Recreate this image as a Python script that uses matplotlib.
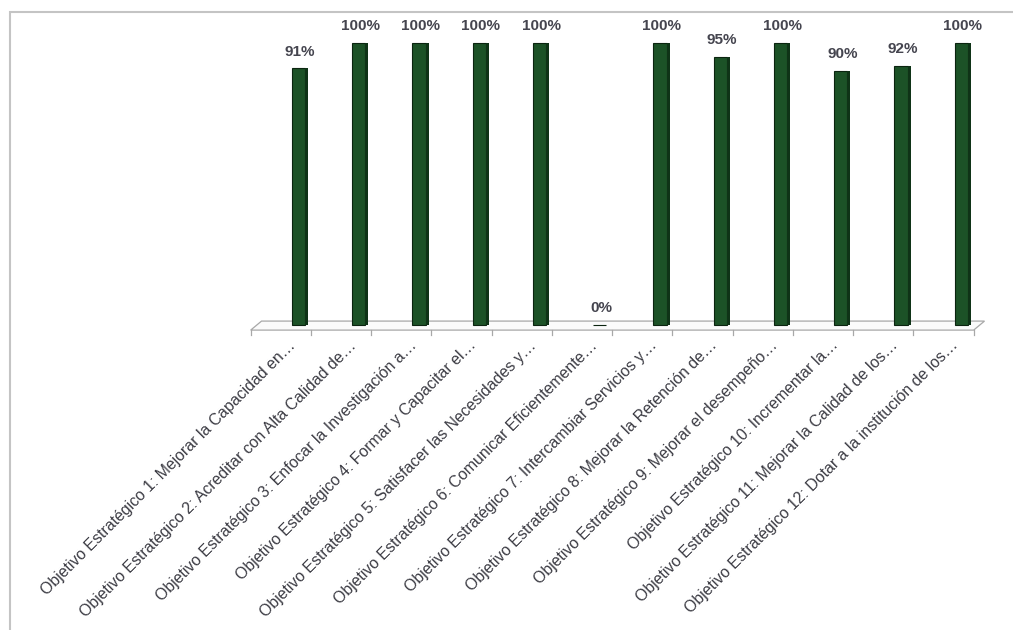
import matplotlib.pyplot as plt
import numpy as np
from matplotlib.patches import Polygon, Rectangle

plt.rcParams["font.family"] = ["Liberation Sans", "DejaVu Sans"]

labels = [
    "Objetivo Estratégico 1: Mejorar la Capacidad en…",
    "Objetivo Estratégico 2: Acreditar con Alta Calidad de…",
    "Objetivo Estratégico 3: Enfocar la Investigación a…",
    "Objetivo Estratégico 4: Formar y Capacitar el…",
    "Objetivo Estratégico 5: Satisfacer las Necesidades y…",
    "Objetivo Estratégico 6: Comunicar Eficientemente…",
    "Objetivo Estratégico 7: Intercambiar Servicios y…",
    "Objetivo Estratégico 8: Mejorar la Retención de…",
    "Objetivo Estratégico 9: Mejorar el desempeño…",
    "Objetivo Estratégico 10: Incrementar la…",
    "Objetivo Estratégico 11: Mejorar la Calidad de los…",
    "Objetivo Estratégico 12: Dotar a la institución de los…",
]
values = [91, 100, 100, 100, 100, 0, 100, 95, 100, 90, 92, 100]

_GREEN = "#1c5227"
_SIDE = "#0f3317"

fig = plt.figure(figsize=(10.13, 6.3), dpi=100)
# axes placed so that 0 sits at y=325px and 100 at y=43px
ax = fig.add_axes([0.2665, 0.4617, 0.7137, 0.5371])
ax.set_xlim(-0.5, 11.5)
ax.set_ylim(-5, 115)
ax.axis("off")

x = np.arange(len(values))

# floor of the pseudo-3D chart
front_l, front_r = -0.82, 11.18
dx, y_back, y_front = 0.18, 1.4, -1.8
floor = Polygon(
    [(front_l, y_front), (front_r, y_front), (front_r + dx, y_back), (front_l + dx, y_back)],
    closed=True, facecolor="#fbfbfb", edgecolor="#a8a8a8", linewidth=0.9,
    zorder=1, clip_on=False,
)
ax.add_patch(floor)
for k in range(len(values) + 1):
    ax.plot([front_l + k, front_l + k], [y_front, y_front - 1.6],
            color="#a8a8a8", linewidth=0.9, zorder=1, clip_on=False)

ax.bar(x - 0.025, values, width=0.22, color=_GREEN, edgecolor="#0b2410",
       linewidth=0.8, zorder=3)
ax.bar(x + 0.11, values, width=0.05, color=_SIDE, linewidth=0, zorder=3)

for xi, v in zip(x, values):
    ax.text(xi, v + 3.5, f"{v}%", ha="center", va="bottom", fontsize=11,
            fontweight="bold", color="#45454f", zorder=4)

for xi, lab in zip(x, labels):
    ax.text(xi - 0.2, -4.5, lab, rotation=45, rotation_mode="anchor",
            ha="right", va="top", fontsize=11.4, color="#3c3c44")

# light frame around the chart area
fig.patches.append(Rectangle((10 / 1013, -0.05), 1.2, 1.05 - 12 / 630,
                             transform=fig.transFigure, fill=False,
                             edgecolor="#c4c4c4", linewidth=1.5))

fig.savefig("out.png", dpi=100)
